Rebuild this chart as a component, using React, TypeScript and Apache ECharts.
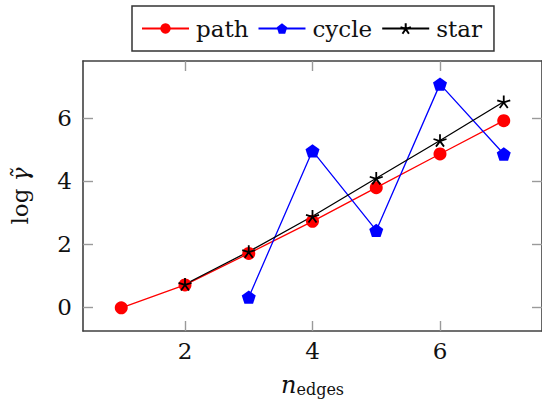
import React, { useEffect, useRef } from "react";
import * as echarts from "echarts";

const pathX = [1, 2, 3, 4, 5, 6, 7];
const pathY = [-0.03, 0.7, 1.7, 2.72, 3.79, 4.86, 5.92];
const cycleX = [3, 4, 5, 6, 7];
const cycleY = [0.31, 4.96, 2.43, 7.08, 4.86];
const starX = [2, 3, 4, 5, 6, 7];
const starY = [0.72, 1.76, 2.88, 4.09, 5.29, 6.52];
const xTicks = [2, 4, 6];
const yTicks = [0, 2, 4, 6];
const seriesNames = ["path", "cycle", "star"];

const FONT = "DejaVu Serif";
const pentagon = "path://M0,-1L0.951,-0.309L0.588,0.809L-0.588,0.809L-0.951,-0.309Z";
const star5 = "path://M0,0L0,-1M0,0L0.951,-0.309M0,0L0.588,0.809M0,0L-0.588,0.809M0,0L-0.951,-0.309";

const pairs = (xs: number[], ys: number[]) => xs.map((x, i) => [x, ys[i]]);

export default function App() {
  const ref = useRef<HTMLDivElement>(null);
  useEffect(() => {
    if (!ref.current) return;
    const chart = echarts.init(ref.current, null, { renderer: "svg" });
    const tickStyle = { show: true, inside: true, length: 10, lineStyle: { color: "#9a9a9a", width: 1.4 } };
    const lineStyle = { show: true, onZero: false, lineStyle: { color: "#404040", width: 1.6 } };
    const xBase = { type: "value", min: 0.4, max: 7.6, splitLine: { show: false }, axisLine: lineStyle };
    const yBase = { type: "value", min: -0.765, max: 7.815, splitLine: { show: false }, axisLine: lineStyle };
    chart.setOption({
      animation: false,
      textStyle: { fontFamily: FONT },
      legend: {
        data: seriesNames,
        left: 132,
        top: 6,
        padding: [11, 12, 11, 9],
        itemGap: 9,
        itemWidth: 47,
        itemHeight: 13,
        borderColor: "#333",
        borderWidth: 1.5,
        textStyle: { fontFamily: FONT, fontSize: 23, color: "#111", padding: [0, 0, 0, 2] },
      },
      grid: { left: 77, top: 61, width: 470, height: 271, containLabel: false },
      xAxis: [
        {
          ...xBase,
          position: "bottom",
          axisTick: { ...tickStyle, customValues: xTicks },
          axisLabel: { customValues: xTicks, fontFamily: FONT, fontSize: 23, color: "#111", margin: 8 },
          name: "{n|n}{s|edges}",
          nameLocation: "middle",
          nameGap: 36,
          nameTextStyle: {
            rich: {
              n: { fontFamily: FONT, fontStyle: "italic", fontSize: 24, color: "#111", verticalAlign: "bottom", lineHeight: 30 },
              s: { fontFamily: FONT, fontSize: 16, color: "#111", verticalAlign: "bottom", lineHeight: 22 },
            },
          },
        },
        {
          ...xBase,
          position: "top",
          axisTick: { ...tickStyle, customValues: xTicks },
          axisLabel: { show: false },
        },
      ],
      yAxis: [
        {
          ...yBase,
          position: "left",
          axisTick: { ...tickStyle, customValues: yTicks },
          axisLabel: { customValues: yTicks, fontFamily: FONT, fontSize: 23, color: "#111", margin: 11 },
          name: "{r|log }{g|γ̃}",
          nameLocation: "middle",
          nameGap: 52,
          nameRotate: 90,
          nameTextStyle: {
            rich: {
              r: { fontFamily: FONT, fontSize: 23, color: "#111" },
              g: { fontFamily: FONT, fontStyle: "italic", fontSize: 23, color: "#111" },
            },
          },
        },
        {
          ...yBase,
          position: "right",
          axisTick: { ...tickStyle, customValues: yTicks },
          axisLabel: { show: false },
        },
      ],
      series: [
        {
          name: seriesNames[0],
          type: "line",
          data: pairs(pathX, pathY),
          symbol: "circle",
          symbolSize: 13,
          itemStyle: { color: "#ff0000" },
          lineStyle: { color: "#ff0000", width: 1.3 },
        },
        {
          name: seriesNames[1],
          type: "line",
          data: pairs(cycleX, cycleY),
          symbol: pentagon,
          symbolSize: 14,
          symbolKeepAspect: true,
          itemStyle: { color: "#0000ff" },
          lineStyle: { color: "#0000ff", width: 1.3 },
        },
        {
          name: seriesNames[2],
          type: "line",
          data: pairs(starX, starY),
          symbol: star5,
          symbolSize: 13,
          symbolKeepAspect: true,
          itemStyle: { color: "#000", borderColor: "#000", borderWidth: 1.8 },
          lineStyle: { color: "#000", width: 1.3 },
        },
      ],
    });
    return () => chart.dispose();
  }, []);
  return (
    <div
      ref={ref}
      style={{ position: "absolute", left: 0, top: 0, width: 542, height: 402, background: "#fff" }}
    />
  );
}
